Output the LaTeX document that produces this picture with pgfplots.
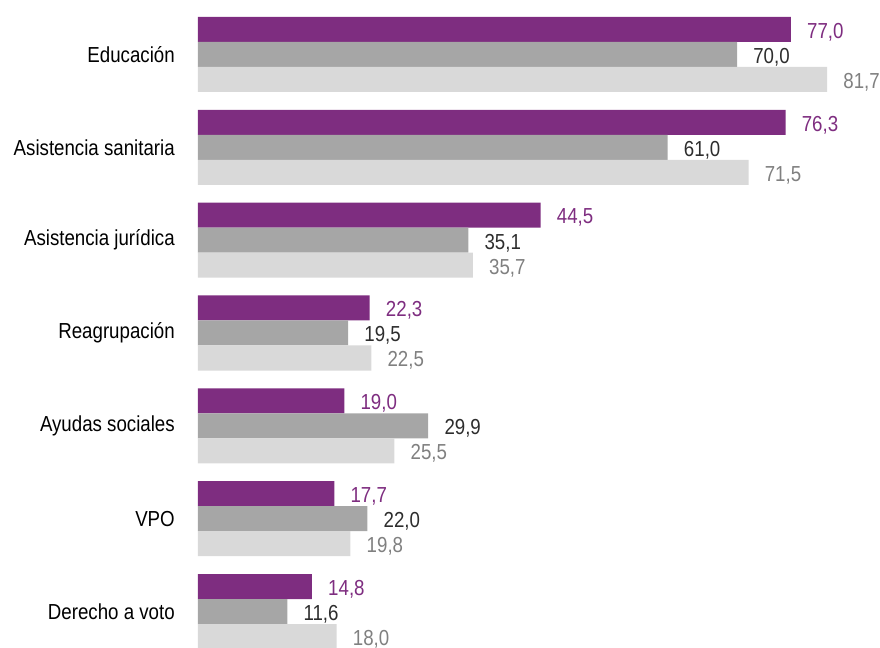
\documentclass[border=0pt]{standalone}
\usepackage{fontspec}
\setmainfont{Liberation Sans}[FakeStretch=0.86]
\usepackage{pgfplots}
\pgfplotsset{compat=1.18}
\usepackage{pgfplotstable}
\definecolor{cpurple}{RGB}{126,45,128}
\definecolor{cgray}{RGB}{166,166,166}
\definecolor{clight}{RGB}{217,217,217}
\definecolor{tblack}{RGB}{45,45,45}
\definecolor{tgray}{RGB}{128,128,128}
\newcommand{\lbl}{\fontsize{16.3}{18}\selectfont}
\pgfplotstableread{
y x lab
6 77.0 77,0
5 76.3 76,3
4 44.5 44,5
3 22.3 22,3
2 19.0 19,0
1 17.7 17,7
0 14.8 14,8
}\seriesA
\pgfplotstableread{
y x lab
6 70.0 70,0
5 61.0 61,0
4 35.1 35,1
3 19.5 19,5
2 29.9 29,9
1 22.0 22,0
0 11.6 11,6
}\seriesB
\pgfplotstableread{
y x lab
6 81.7 81,7
5 71.5 71,5
4 35.7 35,7
3 22.5 22,5
2 25.5 25,5
1 19.8 19,8
0 18.0 18,0
}\seriesC
\begin{document}
\begin{tikzpicture}
\begin{axis}[
  at={(0,0)}, anchor=south west,
  scale only axis,
  width=511.5pt, height=486pt,
  xmin=0, xmax=88.57,
  ymin=-0.393, ymax=6.587,
  xbar, bar width=18.75pt,
  axis line style={draw=none},
  xtick=\empty,
  ytick={0,1,2,3,4,5,6},
  yticklabels={Derecho a voto,VPO,Ayudas sociales,Reagrupación,Asistencia jurídica,Asistencia sanitaria,Educación},
  major tick length=0pt,
  yticklabel style={font=\lbl, text=black, anchor=east, inner sep=0pt, xshift=-17.25pt},
  clip=false,
  point meta=explicit symbolic,
  nodes near coords,
  nodes near coords style={font=\lbl, anchor=west, inner sep=0pt, xshift=12pt, yshift=-2pt},
]
\addplot[fill=cpurple, draw=none, bar shift=18.75pt, nodes near coords style={text=cpurple}]
  table[x=x, y=y, meta=lab] {\seriesA};
\addplot[fill=cgray, draw=none, bar shift=0pt, nodes near coords style={text=tblack}]
  table[x=x, y=y, meta=lab] {\seriesB};
\addplot[fill=clight, draw=none, bar shift=-18.75pt, nodes near coords style={text=tgray}]
  table[x=x, y=y, meta=lab] {\seriesC};
\end{axis}
\pgfresetboundingbox
\path (-148.5pt,0pt) rectangle (511.5pt,486pt);
\end{tikzpicture}
\end{document}
